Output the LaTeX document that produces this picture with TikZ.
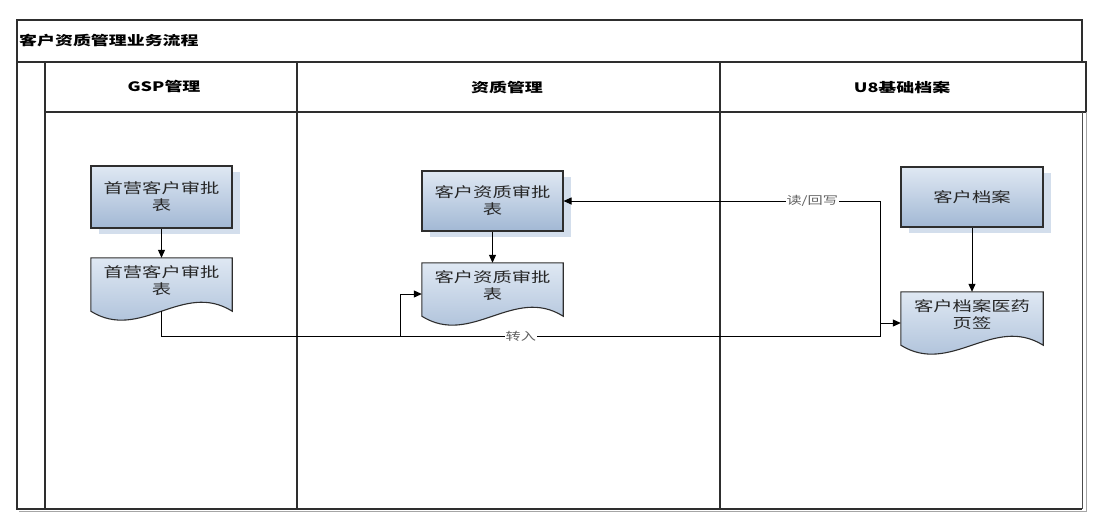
\documentclass[tikz,border=0pt]{standalone}
\usepackage{fontspec}
\usepackage{graphicx}
\setmainfont{Noto Sans CJK SC}
\usetikzlibrary{arrows.meta,calc,shadows}
\definecolor{boxtop}{HTML}{DFE8F3}
\definecolor{boxbot}{HTML}{A2B8D4}
\definecolor{shadowblue}{HTML}{D3DEEC}
\definecolor{framec}{HTML}{2E2E2E}
\definecolor{lblgray}{HTML}{606060}
\newcommand{\sx}[1]{\scalebox{1.38}[1]{#1}}
\newcommand{\docshape}[1]{%
  \path[docstyle] (#1.north west) -- (#1.north east) -- ($(#1.south east)+(0,8)$)
    .. controls ($(#1.south west)!0.65!(#1.south east)+(0,-23)$) and ($(#1.south west)!0.35!(#1.south east)+(0,39)$) ..
    ($(#1.south west)+(0,8)$) -- cycle;}
\tikzset{
  frame/.style={draw=framec, line width=1.1pt},
  procbox/.style={draw=framec, line width=1.1pt, top color=boxtop, bottom color=boxbot,
    minimum width=141pt, inner sep=0pt, align=center, font=\fontsize{14}{17}\selectfont, text=black!85,
    drop shadow={shadow xshift=8pt, shadow yshift=-6pt, fill=shadowblue, opacity=1}},
  docbox/.style={draw=none, minimum width=141pt, minimum height=45pt, inner sep=0pt, align=center,
    font=\fontsize{14}{17}\selectfont, text=black!85},
  docstyle/.style={draw=framec, line width=1.1pt, top color=boxtop, bottom color=boxbot},
  arr/.style={draw=black, line width=1pt, -{Triangle[length=8pt,width=7pt]}},
  lbl/.style={fill=white, inner sep=1pt, text=lblgray, font=\fontsize{11}{13}\selectfont},
  headlbl/.style={font=\bfseries\fontsize{13}{15}\selectfont, inner sep=0pt}
}
\begin{document}
\begin{tikzpicture}[x=1pt,y=-1pt]
\useasboundingbox (0,0) rectangle (1099,520);
% pool frame
\draw[frame] (17,20) rectangle (1082,62);
\node[headlbl, anchor=west] (title) at (19,41) {\sx{客户资质管理业务流程}};
\draw[frame] (17,62) -- (17,509) -- (1082,509);
\draw[frame] (45,62) -- (45,509);
\draw[frame] (45,62) rectangle (1086,112);
\draw[frame] (297,62) -- (297,509);
\draw[frame] (720,62) -- (720,509);
\draw[draw=gray!60!black, line width=1pt] (1082,112) -- (1082,509);
\draw[draw=gray!70, line width=1pt] (1086,112) -- (1086,511) -- (19,511);
\node[headlbl] (h1) at (164,87) {\sx{GSP管理}};
\node[headlbl] (h2) at (507,87) {\sx{资质管理}};
\node[headlbl] (h3) at (902,87) {\sx{U8基础档案}};
% process boxes
\node[procbox, minimum height=62pt] (p1) at (161.5,197) {\sx{首营客户审批}\\\sx{表}};
\node[procbox, minimum height=60pt] (p2) at (492.5,201) {\sx{客户资质审批}\\\sx{表}};
\node[procbox, minimum height=60pt, minimum width=142pt] (p3) at (972,197) {\sx{客户档案}};
% documents
\node[docbox] (d1) at (161.5,280.5) {};
\node[docbox] (d2) at (492.5,285.5) {};
\node[docbox, minimum width=142pt] (d3) at (972,314.5) {};
\docshape{d1}
\docshape{d2}
\docshape{d3}
\node[docbox] (t1) at (d1) {\sx{首营客户审批}\\\sx{表}};
\node[docbox] (t2) at (d2) {\sx{客户资质审批}\\\sx{表}};
\node[docbox, minimum width=142pt] (t3) at (d3) {\sx{客户档案医药}\\\sx{页签}};
% connector coordinates
\coordinate (d1b) at ($(d1.south)+(0,8)$);
\coordinate (j1) at (400,336);
\coordinate (j2) at (880,336);
\coordinate (j3) at (880,323);
\coordinate (d2in) at ($(d2.west)+(0,8.5)$);
\coordinate (d3in) at ($(d3.west)+(0,8.5)$);
% connectors
\draw[arr] (p1.south) -- (d1.north);
\draw[arr] (p2.south) -- (d2.north);
\draw[arr] (p3.south) -- (d3.north);
\draw[arr] (d1b) |- (j2) node[lbl, pos=0.75] {\sx{转入}} |- (d3in);
\draw[arr] (j1) |- (d2in);
\draw[arr] (j3) |- (p2.east) node[lbl, pos=0.607] {\sx{读/回写}};
\end{tikzpicture}
\end{document}
